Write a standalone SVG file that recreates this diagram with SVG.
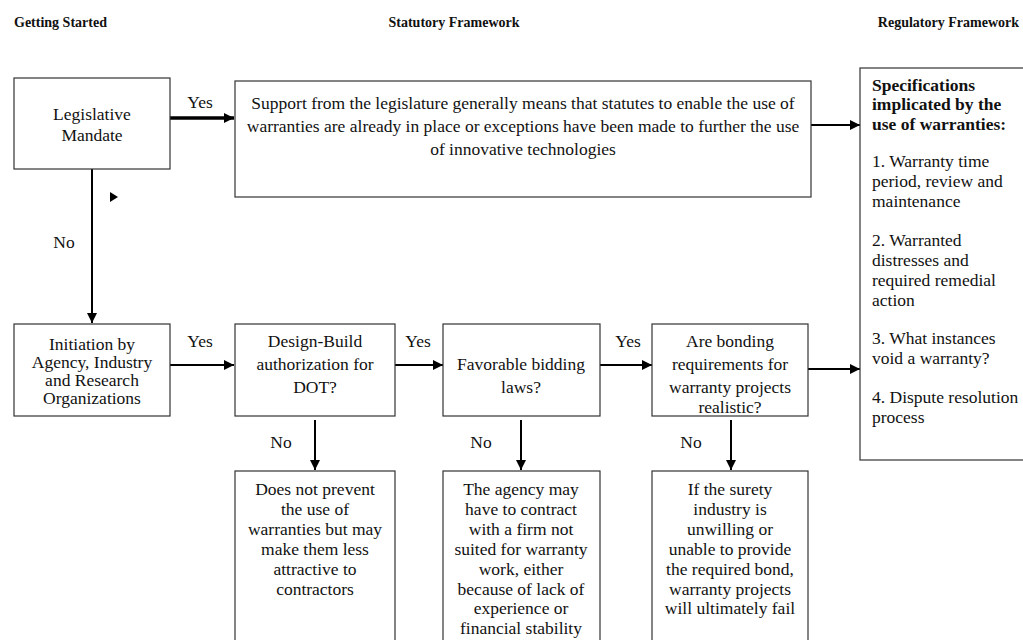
<svg xmlns="http://www.w3.org/2000/svg" width="1023" height="640" viewBox="0 0 1023 640">
<defs>
<marker id="ah" viewBox="0 0 10 10" refX="10" refY="5" markerWidth="10" markerHeight="10" markerUnits="userSpaceOnUse" orient="auto"><path d="M0,0 L10,5 L0,10 z" fill="#000"/></marker>
</defs>
<style>
text{font-family:"Liberation Serif","Times New Roman",serif;font-size:17.5px;fill:#111}
.h{font-weight:bold;font-size:14px}
.b{font-weight:bold}
.c{text-anchor:middle}
rect{fill:#fff;stroke:#333;stroke-width:1.2}
.ln{stroke:#000;stroke-width:2;fill:none}
.thick{stroke:#000;stroke-width:3.5;fill:none}
</style>
<rect x="0" y="0" width="1023" height="640" style="fill:#fff;stroke:none"/>
<g id="headers">
<text class="h" x="14" y="27">Getting Started</text>
<text class="h c" x="454" y="27">Statutory Framework</text>
<text class="h" x="1019" y="27" text-anchor="end">Regulatory Framework</text>
</g>
<g id="connectors">
<line class="thick" x1="170" y1="118" x2="234" y2="118" marker-end="url(#ah)"/>
<text class="c" x="200" y="108">Yes</text>
<line class="ln" x1="811" y1="125" x2="860" y2="125" marker-end="url(#ah)"/>
<line class="ln" x1="92" y1="169" x2="92" y2="323" marker-end="url(#ah)"/>
<text class="c" x="64" y="248">No</text>
<polygon points="110,192 118,197 110,202" fill="#000"/>
<line class="ln" x1="170" y1="365" x2="234" y2="365" marker-end="url(#ah)"/>
<text class="c" x="200" y="347">Yes</text>
<line class="ln" x1="395" y1="365" x2="443" y2="365" marker-end="url(#ah)"/>
<text class="c" x="418" y="347">Yes</text>
<line class="ln" x1="600" y1="365" x2="652" y2="365" marker-end="url(#ah)"/>
<text class="c" x="628" y="347">Yes</text>
<line class="ln" x1="808" y1="369" x2="860" y2="369" marker-end="url(#ah)"/>
<line class="ln" x1="315" y1="420" x2="315" y2="470" marker-end="url(#ah)"/>
<text class="c" x="281" y="448">No</text>
<line class="ln" x1="521" y1="420" x2="521" y2="470" marker-end="url(#ah)"/>
<text class="c" x="481" y="448">No</text>
<line class="ln" x1="731" y1="420" x2="731" y2="470" marker-end="url(#ah)"/>
<text class="c" x="691" y="448">No</text>
</g>
<g id="legislative">
<rect x="14" y="78" width="156" height="91"/>
<text class="c" x="92" y="120">Legislative</text>
<text class="c" x="92" y="141">Mandate</text>
</g>
<g id="support">
<rect x="235" y="81" width="576" height="116"/>
<text class="c" x="523" y="109">Support from the legislature generally means that statutes to enable the use of</text>
<text class="c" x="523" y="132">warranties are already in place or exceptions have been made to further the use</text>
<text class="c" x="523" y="155">of innovative technologies</text>
</g>
<g id="specs">
<rect x="860" y="68" width="170" height="392"/>
<text class="b" x="872" y="91">Specifications</text>
<text class="b" x="872" y="110">implicated by the</text>
<text class="b" x="872" y="130">use of warranties:</text>
<text x="872" y="167">1. Warranty time</text>
<text x="872" y="187">period, review and</text>
<text x="872" y="207">maintenance</text>
<text x="872" y="246">2. Warranted</text>
<text x="872" y="266">distresses and</text>
<text x="872" y="286">required remedial</text>
<text x="872" y="306">action</text>
<text x="872" y="344">3. What instances</text>
<text x="872" y="364">void a warranty?</text>
<text x="872" y="403">4. Dispute resolution</text>
<text x="872" y="423">process</text>
</g>
<g id="initiation">
<rect x="14" y="324" width="156" height="92"/>
<text class="c" x="92" y="350">Initiation by</text>
<text class="c" x="92" y="368">Agency, Industry</text>
<text class="c" x="92" y="386">and Research</text>
<text class="c" x="92" y="404">Organizations</text>
</g>
<g id="designbuild">
<rect x="235" y="324" width="160" height="92"/>
<text class="c" x="315" y="347">Design-Build</text>
<text class="c" x="315" y="370">authorization for</text>
<text class="c" x="315" y="393">DOT?</text>
</g>
<g id="bidding">
<rect x="443" y="324" width="157" height="92"/>
<text class="c" x="521" y="370">Favorable bidding</text>
<text class="c" x="521" y="393">laws?</text>
</g>
<g id="bonding">
<rect x="652" y="324" width="156" height="92"/>
<text class="c" x="730" y="347">Are bonding</text>
<text class="c" x="730" y="370">requirements  for</text>
<text class="c" x="730" y="393">warranty projects</text>
<text class="c" x="730" y="413">realistic?</text>
</g>
<g id="noDB">
<rect x="235" y="471" width="160" height="180"/>
<text class="c" x="315" y="495">Does not prevent</text>
<text class="c" x="315" y="515">the use of</text>
<text class="c" x="315" y="535">warranties but may</text>
<text class="c" x="315" y="555">make them less</text>
<text class="c" x="315" y="575">attractive to</text>
<text class="c" x="315" y="595">contractors</text>
</g>
<g id="noBid">
<rect x="443" y="471" width="157" height="180"/>
<text class="c" x="521" y="495">The agency may</text>
<text class="c" x="521" y="515">have to contract</text>
<text class="c" x="521" y="535">with a firm not</text>
<text class="c" x="521" y="555">suited for warranty</text>
<text class="c" x="521" y="575">work, either</text>
<text class="c" x="521" y="595">because of lack of</text>
<text class="c" x="521" y="614">experience or</text>
<text class="c" x="521" y="634">financial stability</text>
</g>
<g id="noBond">
<rect x="652" y="471" width="156" height="180"/>
<text class="c" x="730" y="495">If the surety</text>
<text class="c" x="730" y="515">industry is</text>
<text class="c" x="730" y="535">unwilling or</text>
<text class="c" x="730" y="555">unable to provide</text>
<text class="c" x="730" y="575">the required bond,</text>
<text class="c" x="730" y="595">warranty projects</text>
<text class="c" x="730" y="614">will ultimately fail</text>
</g>
</svg>
